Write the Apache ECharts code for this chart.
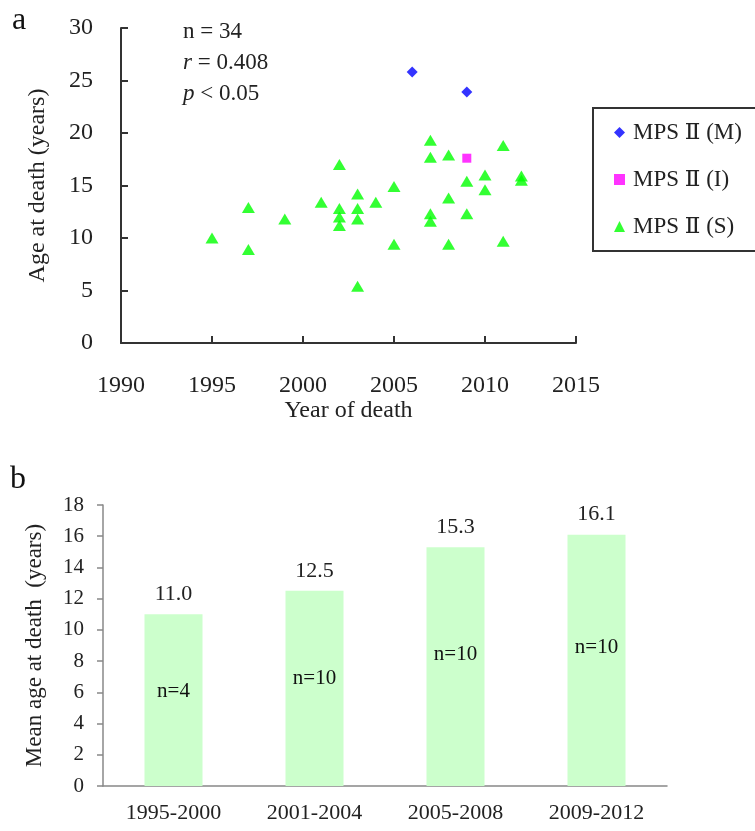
<!DOCTYPE html>
<html><head><meta charset="utf-8">
<script src="https://cdn.jsdelivr.net/npm/echarts@6/dist/echarts.min.js"></script>
<style>html,body{margin:0;padding:0;background:#fff}#c{width:755px;height:831px}</style>
</head><body><div id="c"></div>
<script>
const FONT = '"Liberation Serif","Times New Roman","DejaVu Serif",serif';

// Panel a: scatter data
const mpsMYears = [2006, 2009];
const mpsMAges  = [25.8, 23.9];
const mpsIYears = [2009];
const mpsIAges  = [17.6];
const mpsSYears = [1995,1997,1997,1999,2001,2002,2002,2002,2002,2003,2003,2003,2003,2004,2005,2005,2007,2007,2007,2007,2008,2008,2008,2009,2009,2010,2010,2011,2011,2012,2012];
const mpsSAges  = [10.0,12.9,8.9,11.8,13.4,17.0,12.8,12.0,11.2,14.2,12.8,11.8,5.4,13.4,14.9,9.4,19.3,17.7,12.3,11.6,17.9,13.8,9.4,15.4,12.3,16.0,14.6,18.8,9.7,15.9,15.5];
const seriesNames = ['MPS Ⅱ (M)', 'MPS Ⅱ (I)', 'MPS Ⅱ (S)'];
const statN = '34', statR = '0.408', statP = '0.05';

// Panel b: bar data
const periods   = ['1995-2000', '2001-2004', '2005-2008', '2009-2012'];
const meanAges  = [11.0, 12.5, 15.3, 16.1];
const counts    = [4, 10, 10, 10];

const zip = (a, b) => a.map((v, i) => [v, b[i]]);
const txt = '#222';

const chart = echarts.init(document.getElementById('c'), null, {renderer: 'canvas'});
chart.setOption({
  backgroundColor: '#fff',
  animation: false,
  textStyle: {fontFamily: FONT},
  grid: [
    {left: 121, top: 28, width: 455, height: 315},
    {left: 103, top: 505, width: 564, height: 281}
  ],
  xAxis: [
    {type: 'value', gridIndex: 0, min: 1990, max: 2015, interval: 5,
     axisLine: {lineStyle: {color: '#333', width: 2}},
     axisTick: {inside: true, length: 7, lineStyle: {color: '#333', width: 2}},
     splitLine: {show: false},
     axisLabel: {color: txt, fontSize: 24, fontFamily: FONT, margin: 31, formatter: v => String(v)},
     name: 'Year of death', nameLocation: 'middle', nameGap: 56,
     nameTextStyle: {color: txt, fontSize: 24, fontFamily: FONT}},
    {type: 'category', gridIndex: 1, data: periods,
     axisLine: {lineStyle: {color: '#888', width: 1.5}},
     axisTick: {length: 6, lineStyle: {color: '#888', width: 1.5}},
     axisLabel: {color: txt, fontSize: 22, fontFamily: FONT, margin: 16}}
  ],
  yAxis: [
    {type: 'value', gridIndex: 0, min: 0, max: 30, interval: 5,
     axisLine: {show: true, lineStyle: {color: '#333', width: 2}},
     axisTick: {show: true, inside: true, length: 7, lineStyle: {color: '#333', width: 2}},
     splitLine: {show: false},
     axisLabel: {color: txt, fontSize: 24, fontFamily: FONT, margin: 28},
     name: 'Age at death (years)', nameLocation: 'middle', nameGap: 71, nameRotate: 90,
     nameTextStyle: {color: txt, fontSize: 24, fontFamily: FONT}},
    {type: 'value', gridIndex: 1, min: 0, max: 18, interval: 2,
     axisLine: {show: true, lineStyle: {color: '#888', width: 1.5}},
     axisTick: {show: true, length: 6, lineStyle: {color: '#888', width: 1.5}},
     splitLine: {show: false},
     axisLabel: {color: txt, fontSize: 21, fontFamily: FONT, margin: 19},
     name: 'Mean age at death  (years)', nameLocation: 'middle', nameGap: 57, nameRotate: 90,
     nameTextStyle: {color: txt, fontSize: 23, fontFamily: FONT}}
  ],
  legend: {
    data: seriesNames,
    orient: 'vertical', left: 593, top: 108,
    borderColor: '#333', borderWidth: 2,
    padding: [12, 40, 12, 21],
    itemGap: 22, itemWidth: 11, itemHeight: 11,
    textStyle: {color: txt, fontSize: 23, lineHeight: 25, fontFamily: FONT, padding: [0, 0, 0, 3]}
  },
  series: [
    {name: seriesNames[0], type: 'scatter', xAxisIndex: 0, yAxisIndex: 0,
     symbol: 'diamond', symbolSize: 11, itemStyle: {color: '#0000ff'},
     data: zip(mpsMYears, mpsMAges)},
    {name: seriesNames[1], type: 'scatter', xAxisIndex: 0, yAxisIndex: 0,
     symbol: 'rect', symbolSize: 9, itemStyle: {color: '#ff00ff'},
     data: zip(mpsIYears, mpsIAges)},
    {name: seriesNames[2], type: 'scatter', xAxisIndex: 0, yAxisIndex: 0,
     symbol: 'triangle', symbolSize: [13, 11], itemStyle: {color: '#00ff00'},
     data: zip(mpsSYears, mpsSAges)},
    {type: 'bar', xAxisIndex: 1, yAxisIndex: 1, barWidth: 58,
     itemStyle: {color: '#ccffcc'},
     label: {show: true, position: 'top', distance: 9, color: txt, fontSize: 22, fontFamily: FONT,
             formatter: p => p.value.toFixed(1)},
     data: meanAges},
    {type: 'bar', xAxisIndex: 1, yAxisIndex: 1, barWidth: 58, barGap: '-100%',
     itemStyle: {color: 'rgba(0,0,0,0)'}, silent: true,
     label: {show: true, position: ['50%', '45%'], align: 'center', verticalAlign: 'middle',
             color: '#111', fontSize: 21, fontFamily: FONT,
             formatter: p => 'n=' + counts[p.dataIndex]},
     data: meanAges}
  ],
  graphic: [
    {type: 'text', left: 12, top: 5, style: {text: 'a', fontSize: 32, fontFamily: FONT, fill: '#111'}},
    {type: 'text', left: 10, top: 464, style: {text: 'b', fontSize: 32, fontFamily: FONT, fill: '#111'}},
    {type: 'text', left: 183, top: 16, style: {
      text: 'n = ' + statN + '\n{i|r} = ' + statR + '\n{i|p} < ' + statP,
      fontSize: 23, lineHeight: 31, fontFamily: FONT, fill: txt,
      rich: {i: {fontStyle: 'italic', fontSize: 23, fontFamily: FONT, fill: txt, lineHeight: 31}}
    }}
  ]
});
</script>
</body></html>
